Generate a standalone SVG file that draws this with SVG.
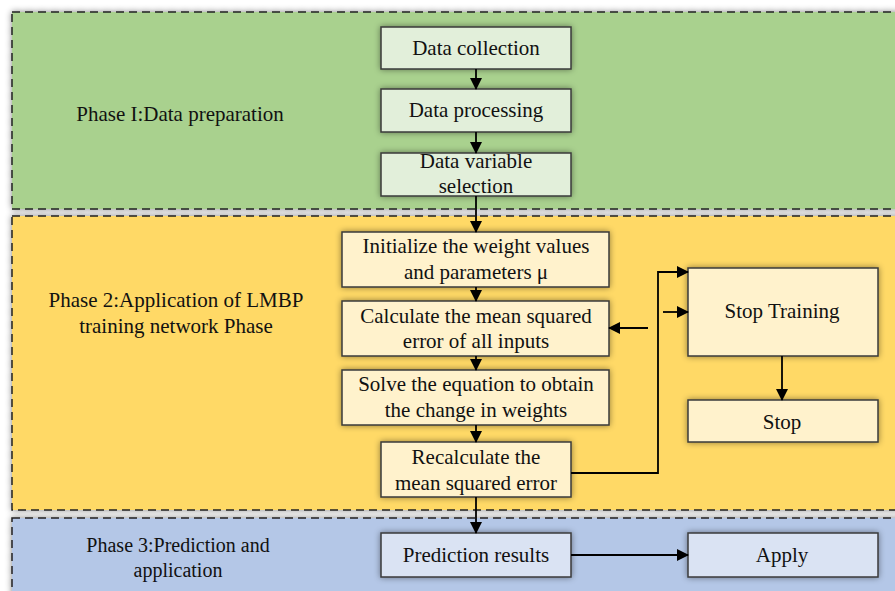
<svg xmlns="http://www.w3.org/2000/svg" width="895" height="591" viewBox="0 0 895 591">
<defs>
<style>
.band{stroke:#222;stroke-width:1.5;stroke-dasharray:8 5}
.n{stroke:#3a3a3a;stroke-width:1.5}
.g{fill:#E2EFDA}
.y{fill:#FFF2CC}
.b{fill:#DAE3F3}
text{font-family:"Liberation Serif","Times New Roman",serif;font-size:21px;fill:#111;text-anchor:middle}
.c{fill:none;stroke:#000;stroke-width:1.8}
</style>
<filter id="sh" x="-20%" y="-30%" width="140%" height="160%">
<feDropShadow dx="0" dy="0" stdDeviation="3" flood-color="#000" flood-opacity="0.45"/>
</filter>
<marker id="ar" markerWidth="12" markerHeight="12" refX="11" refY="6" orient="auto" markerUnits="userSpaceOnUse">
<path d="M0,0 L12,6 L0,12 z" fill="#000"/>
</marker>
</defs>
<rect width="895" height="591" fill="#fff"/>
<g id="phase1">
<rect x="12" y="12" width="900" height="197" fill="#A9D18E" class="band" filter="url(#sh)"/>
<text x="180" y="121">Phase I:Data preparation</text>
</g>
<g id="phase2">
<rect x="12" y="216" width="900" height="294" fill="#FFD966" class="band" filter="url(#sh)"/>
<text x="176" y="307">Phase 2:Application of LMBP</text>
<text x="176" y="333">training network Phase</text>
</g>
<g id="phase3">
<rect x="12" y="518" width="900" height="90" fill="#B4C7E7" class="band" filter="url(#sh)"/>
<text x="178" y="552" style="font-size:20px">Phase 3:Prediction and</text>
<text x="178" y="577" style="font-size:20px">application</text>
</g>
<g id="n1"><rect x="381" y="27" width="190" height="42" class="n g" filter="url(#sh)"/><text x="476" y="55">Data collection</text></g>
<g id="n2"><rect x="381" y="89" width="190" height="43" class="n g" filter="url(#sh)"/><text x="476" y="117">Data processing</text></g>
<g id="n3"><rect x="381" y="153" width="190" height="43" class="n g" filter="url(#sh)"/><text x="476" y="168">Data variable</text><text x="476" y="193">selection</text></g>
<g id="n4"><rect x="342" y="232" width="267" height="55" class="n y" filter="url(#sh)"/><text x="476" y="253">Initialize the weight values</text><text x="476" y="279">and parameters μ</text></g>
<g id="n5"><rect x="342" y="301" width="267" height="55" class="n y" filter="url(#sh)"/><text x="476" y="323">Calculate the mean squared</text><text x="476" y="348">error of all inputs</text></g>
<g id="n6"><rect x="342" y="370" width="267" height="55" class="n y" filter="url(#sh)"/><text x="476" y="391">Solve the equation to obtain</text><text x="476" y="417">the change in weights</text></g>
<g id="n7"><rect x="381" y="442" width="190" height="55" class="n y" filter="url(#sh)"/><text x="476" y="464">Recalculate the</text><text x="476" y="490">mean squared error</text></g>
<g id="n8"><rect x="688" y="268" width="190" height="88" class="n y" filter="url(#sh)"/><text x="782" y="318">Stop Training</text></g>
<g id="n9"><rect x="688" y="400" width="190" height="42" class="n y" filter="url(#sh)"/><text x="782" y="429">Stop</text></g>
<g id="n10"><rect x="381" y="533" width="190" height="44" class="n b" filter="url(#sh)"/><text x="476" y="562">Prediction results</text></g>
<g id="n11"><rect x="688" y="533" width="190" height="44" class="n b" filter="url(#sh)"/><text x="782" y="562">Apply</text></g>
<g id="connectors">
<path class="c" d="M476,69 V89" marker-end="url(#ar)"/>
<path class="c" d="M476,132 V153" marker-end="url(#ar)"/>
<path class="c" d="M476,196 V232" marker-end="url(#ar)"/>
<path class="c" d="M476,287 V301" marker-end="url(#ar)"/>
<path class="c" d="M476,356 V370" marker-end="url(#ar)"/>
<path class="c" d="M476,425 V442" marker-end="url(#ar)"/>
<path class="c" d="M476,497 V533" marker-end="url(#ar)"/>
<path class="c" d="M571,473 H658 V272 H688" marker-end="url(#ar)"/>
<path class="c" d="M663,312 H688" marker-end="url(#ar)"/>
<path class="c" d="M648,328 H609" marker-end="url(#ar)"/>
<path class="c" d="M782,356 V400" marker-end="url(#ar)"/>
<path class="c" d="M571,555 H688" marker-end="url(#ar)"/>
</g>
</svg>
